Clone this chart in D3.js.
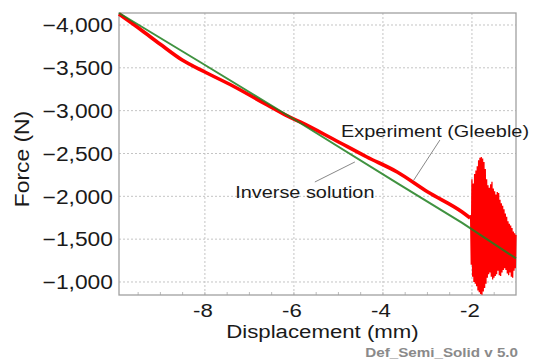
<!DOCTYPE html>
<html><head><meta charset="utf-8">
<script src="https://cdn.jsdelivr.net/npm/d3@7/dist/d3.min.js"></script>
<style>body{margin:0;background:#fff}svg{display:block}</style>
</head><body><svg id="c" width="533" height="360"></svg>
<script>
// ---- data ----
const xTicks = [-8, -6, -4, -2];
const yTicks = [-4000, -3500, -3000, -2500, -2000, -1500, -1000];
const xMinor = [-9.5,-9,-8.5,-7.5,-7,-6.5,-5.5,-5,-4.5,-3.5,-3,-2.5,-1.5];

// Experiment (Gleeble) – smooth part
const expDisp  = [-9.93, -9.46, -9.01, -8.51, -8.00, -7.37, -6.60, -6.15, -5.86, -5.12, -4.36, -3.68, -2.99, -2.22, -2.04];
const expForce = [-4128, -3953, -3778, -3591, -3451, -3288, -3066, -2938, -2868, -2669, -2459, -2284, -2050, -1817, -1747];

// Experiment (Gleeble) – oscillating end part
const noiseDisp = [-2.03,-2.015,-2.00,-1.985,-1.97,-1.955,-1.94,-1.925,-1.91,-1.895,-1.88,-1.865,-1.85,-1.835,-1.82,-1.805,-1.79,-1.775,-1.76,-1.745,-1.73,-1.715,-1.70,-1.685,-1.67,-1.655,-1.64,-1.625,-1.61,-1.595,-1.58,-1.565,-1.55,-1.535,-1.52,-1.505,-1.49,-1.475,-1.46,-1.445,-1.43,-1.415,-1.40,-1.385,-1.37,-1.355,-1.34,-1.325,-1.31,-1.295,-1.28,-1.265,-1.25,-1.235,-1.22,-1.205,-1.19,-1.175,-1.16,-1.145,-1.13,-1.115,-1.10,-1.085,-1.07,-1.055,-1.04,-1.025,-1.01];
const noiseForce = [-1780,-1200,-2200,-1060,-2150,-1000,-2260,-980,-2300,-950,-2350,-900,-2420,-880,-2450,-860,-2460,-850,-2440,-890,-2400,-930,-2320,-980,-2200,-1050,-2130,-1090,-2100,-1110,-2140,-1060,-2170,-1030,-2090,-1050,-2060,-1070,-2020,-1090,-2050,-1130,-2040,-1080,-1960,-1070,-1920,-1110,-1890,-1140,-1850,-1160,-1800,-1140,-1760,-1100,-1710,-1080,-1680,-1110,-1660,-1060,-1630,-1050,-1590,-1130,-1570,-1160,-1550];

// Inverse solution
const invDisp  = [-9.93, -8.11, -5.86, -3.68, -2.22, -1.01];
const invForce = [-4140, -3568, -2856, -2155, -1689, -1275];

// annotations (data coordinates)
const annoLabels = ["Experiment (Gleeble)", "Inverse solution"];
const annoText   = [[-4.94, -2692], [-7.32, -1980]];
const annoFrom   = [[-2.72, -2657], [-5.53, -2167]];
const annoTo     = [[-3.32, -2179], [-4.63, -2401]];

// ---- layout ----
const W = 533, H = 360;
const m = {l:119, t:13, r:17, b:65};
const SX = 1.17;
const FONT = "'Liberation Sans', Arial, sans-serif";

const svg = d3.select("#c");
const x = d3.scaleLinear().domain([-9.93, -1.01]).range([m.l, W - m.r]);
const y = d3.scaleLinear().domain([-4140, -848]).range([m.t, H - m.b]);

// grid
const grid = svg.append("g").attr("stroke", "#c4c4c4").attr("stroke-width", 1).attr("stroke-dasharray", "2,2");
grid.selectAll("line.v").data(xTicks).join("line").attr("class","v")
  .attr("x1", d => x(d)).attr("x2", d => x(d)).attr("y1", m.t).attr("y2", H - m.b);
grid.selectAll("line.h").data(yTicks).join("line").attr("class","h")
  .attr("y1", d => y(d)).attr("y2", d => y(d)).attr("x1", m.l).attr("x2", W - m.r);

// minor / major ticks inside bottom axis
svg.append("g").attr("stroke", "#bbb").attr("stroke-width", 1)
  .selectAll("line").data(xMinor.concat(xTicks)).join("line")
  .attr("x1", d => x(d)).attr("x2", d => x(d)).attr("y1", H - m.b).attr("y2", H - m.b - 3);

// frame
svg.append("rect").attr("x", m.l).attr("y", m.t)
  .attr("width", W - m.l - m.r).attr("height", H - m.t - m.b)
  .attr("fill", "none").attr("stroke", "#a0a0a0").attr("stroke-width", 1.3);

// lines
const smooth = d3.line().x(d => x(d[0])).y(d => y(d[1])).curve(d3.curveMonotoneX);
const line = d3.line().x(d => x(d[0])).y(d => y(d[1]));
const expPts = expDisp.map((d, i) => [d, expForce[i]]);
const noisePts = noiseDisp.map((d, i) => [d, noiseForce[i]]);
const invPts = invDisp.map((d, i) => [d, invForce[i]]);

svg.append("path").attr("d", smooth(expPts)).attr("fill", "none")
  .attr("stroke", "#ff0000").attr("stroke-width", 3.6).attr("stroke-linejoin", "round");
svg.append("path").attr("d", line([expPts[expPts.length-1]].concat(noisePts))).attr("fill", "none")
  .attr("stroke", "#ff0000").attr("stroke-width", 1.3).attr("stroke-linejoin", "miter");
svg.append("path").attr("d", line(invPts)).attr("fill", "none")
  .attr("stroke", "#1f7f1f").attr("stroke-opacity", 0.85).attr("stroke-width", 2);

// leader lines
svg.append("g").attr("stroke", "#888").attr("stroke-width", 1)
  .selectAll("line").data(annoFrom).join("line")
  .attr("x1", d => x(d[0])).attr("y1", d => y(d[1]))
  .attr("x2", (d, i) => x(annoTo[i][0])).attr("y2", (d, i) => y(annoTo[i][1]));

function stext(px, py, str, opts) {
  const g = svg.append("g").attr("transform",
    `translate(${px},${py})` + (opts.rot ? ` rotate(${opts.rot})` : "") + ` scale(${SX},1)`);
  g.append("text").text(str)
    .attr("font-family", FONT).attr("font-size", opts.size)
    .attr("font-weight", opts.weight || "normal")
    .attr("fill", opts.fill || "#1a1a1a")
    .attr("text-anchor", opts.anchor || "start");
}

// tick labels
yTicks.forEach(v => stext(113, y(v) + 7.3, d3.format(",")(v), {size: 19.5, anchor: "end"}));
xTicks.forEach(v => stext(x(v) - 2, 316.5, String(v), {size: 19, anchor: "middle"}));

// axis titles
stext(322.5, 337.5, "Displacement (mm)", {size: 19, anchor: "middle"});
stext(29, 159, "Force (N)", {size: 19.5, anchor: "middle", rot: -90});

// annotations
annoLabels.forEach((s, i) => stext(x(annoText[i][0]), y(annoText[i][1]), s, {size: 17}));

// footer
stext(518, 357, "Def_Semi_Solid v 5.0", {size: 13, weight: "bold", anchor: "end", fill: "#8a8a8a"});
</script></body></html>
